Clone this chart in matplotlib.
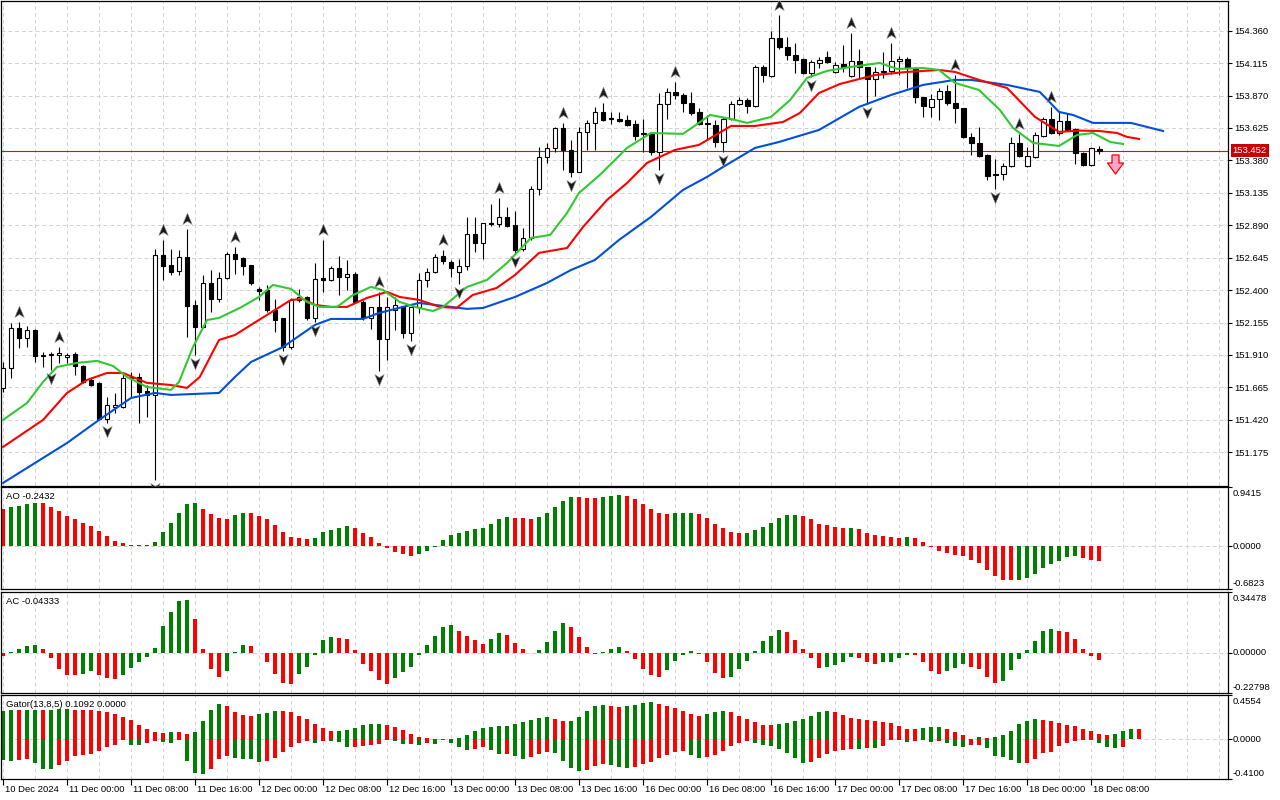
import numpy as np
import matplotlib.pyplot as plt
from matplotlib.path import Path
from matplotlib.transforms import offset_copy, ScaledTranslation, blended_transform_factory

plt.rcParams['font.family'] = ['Liberation Sans', 'DejaVu Sans']

# hourly bars, 10 Dec 16:00 .. 18 Dec 09:00
opens = [
    151.661, 151.812, 152.114, 152.038, 152.099, 151.910, 151.910, 151.910, 151.895, 151.918,
    151.827, 151.721, 151.699, 151.427, 151.517, 151.517, 151.736, 151.744, 151.638, 151.608,
    152.666, 152.590, 152.545, 152.650, 152.288, 152.122, 152.454, 152.333, 152.492, 152.673,
    152.643, 152.590, 152.409, 152.401, 152.250, 152.190, 151.970, 152.326, 152.348, 152.190,
    152.492, 152.477, 152.567, 152.499, 152.522, 152.310, 152.190, 152.273, 152.031, 152.250,
    152.280, 152.076, 152.273, 152.477, 152.537, 152.658, 152.613, 152.537, 152.582, 152.824,
    152.756, 152.907, 152.900, 152.953, 152.892, 152.711, 152.794, 153.164, 153.406, 153.474,
    153.625, 153.459, 153.293, 153.595, 153.663, 153.746, 153.701, 153.693, 153.686, 153.655,
    153.587, 153.580, 153.444, 153.806, 153.897, 153.874, 153.814, 153.746, 153.663, 153.648,
    153.519, 153.693, 153.806, 153.837, 153.791, 154.086, 154.018, 154.305, 154.237, 154.176,
    154.146, 154.040, 154.116, 154.161, 154.048, 154.108, 154.018, 154.131, 154.086, 153.995,
    154.048, 154.056, 154.131, 154.146, 154.078, 153.859, 153.784, 153.844, 153.905, 153.814,
    153.776, 153.557, 153.512, 153.421, 153.277, 153.277, 153.338, 153.512, 153.338, 153.406,
    153.565, 153.693, 153.587, 153.678, 153.617, 153.436, 153.345, 153.466]
highs = [
    151.857, 152.152, 152.159, 152.129, 152.106, 151.933, 151.933, 151.970, 151.926, 151.933,
    151.835, 151.744, 151.706, 151.593, 151.623, 151.774, 151.782, 151.774, 151.683, 152.711,
    152.779, 152.711, 152.703, 152.862, 152.326, 152.514, 152.552, 152.537, 152.688, 152.726,
    152.650, 152.590, 152.424, 152.439, 152.333, 152.190, 152.341, 152.409, 152.356, 152.605,
    152.779, 152.582, 152.658, 152.628, 152.537, 152.326, 152.273, 152.386, 152.348, 152.348,
    152.280, 152.273, 152.530, 152.567, 152.673, 152.703, 152.628, 152.635, 152.953, 152.953,
    152.907, 153.051, 153.096, 153.028, 152.998, 152.870, 153.187, 153.481, 153.512, 153.633,
    153.663, 153.534, 153.633, 153.686, 153.784, 153.814, 153.746, 153.746, 153.723, 153.686,
    153.693, 153.587, 153.889, 153.927, 153.973, 153.889, 153.897, 153.776, 153.723, 153.686,
    153.708, 153.829, 153.859, 153.852, 154.101, 154.101, 154.358, 154.479, 154.312, 154.267,
    154.154, 154.139, 154.161, 154.207, 154.124, 154.252, 154.343, 154.222, 154.086, 154.086,
    154.199, 154.267, 154.169, 154.161, 154.086, 153.859, 153.882, 153.927, 153.950, 154.025,
    153.776, 153.587, 153.633, 153.429, 153.391, 153.361, 153.557, 153.580, 153.481, 153.595,
    153.708, 153.784, 153.746, 153.738, 153.625, 153.444, 153.481, 153.489]
lows = [
    151.630, 151.736, 151.963, 151.970, 151.857, 151.819, 151.797, 151.850, 151.850, 151.759,
    151.699, 151.676, 151.419, 151.396, 151.472, 151.510, 151.593, 151.396, 151.442, 150.966,
    152.477, 152.514, 152.514, 152.046, 151.910, 152.114, 152.235, 152.310, 152.484, 152.522,
    152.514, 152.439, 152.326, 152.235, 152.084, 151.940, 151.955, 152.310, 152.174, 152.159,
    152.386, 152.469, 152.363, 152.401, 152.303, 152.174, 152.106, 151.789, 151.872, 152.099,
    152.038, 152.016, 152.227, 152.424, 152.530, 152.597, 152.499, 152.446, 152.552, 152.688,
    152.635, 152.885, 152.877, 152.877, 152.681, 152.696, 152.779, 153.119, 153.361, 153.444,
    153.308, 153.255, 153.293, 153.459, 153.459, 153.678, 153.655, 153.670, 153.640, 153.534,
    153.444, 153.421, 153.308, 153.693, 153.844, 153.746, 153.723, 153.648, 153.534, 153.481,
    153.444, 153.686, 153.799, 153.738, 153.784, 153.973, 154.010, 154.222, 154.139, 154.040,
    154.033, 154.010, 154.078, 154.116, 154.040, 154.048, 154.010, 154.003, 153.806, 153.867,
    154.003, 154.033, 154.025, 153.927, 153.814, 153.708, 153.708, 153.686, 153.799, 153.663,
    153.549, 153.421, 153.406, 153.232, 153.164, 153.232, 153.330, 153.406, 153.330, 153.398,
    153.557, 153.580, 153.572, 153.602, 153.353, 153.338, 153.338, 153.429]
closes = [
    151.812, 152.114, 152.038, 152.099, 151.903, 151.903, 151.918, 151.926, 151.910, 151.827,
    151.706, 151.683, 151.427, 151.532, 151.532, 151.736, 151.744, 151.630, 151.608, 152.666,
    152.582, 152.537, 152.650, 152.280, 152.122, 152.454, 152.333, 152.492, 152.673, 152.635,
    152.582, 152.454, 152.394, 152.250, 152.174, 151.970, 152.326, 152.348, 152.190, 152.484,
    152.477, 152.567, 152.499, 152.522, 152.310, 152.190, 152.273, 152.031, 152.273, 152.288,
    152.076, 152.273, 152.477, 152.537, 152.650, 152.620, 152.567, 152.582, 152.824, 152.756,
    152.907, 152.900, 152.953, 152.885, 152.703, 152.794, 153.164, 153.406, 153.474, 153.625,
    153.459, 153.293, 153.595, 153.663, 153.746, 153.686, 153.693, 153.678, 153.648, 153.565,
    153.580, 153.444, 153.806, 153.897, 153.874, 153.814, 153.738, 153.655, 153.655, 153.519,
    153.693, 153.806, 153.837, 153.791, 154.086, 154.025, 154.305, 154.237, 154.176, 154.139,
    154.040, 154.124, 154.139, 154.124, 154.101, 154.086, 154.131, 154.086, 153.995, 154.048,
    154.056, 154.131, 154.146, 154.078, 153.859, 153.791, 153.844, 153.905, 153.814, 153.776,
    153.557, 153.512, 153.413, 153.262, 153.270, 153.338, 153.512, 153.413, 153.413, 153.572,
    153.693, 153.587, 153.678, 153.610, 153.436, 153.345, 153.474, 153.452]

# alligator lines (bar position, price)
jaw_bars = [0, 4, 8, 12, 16, 19, 21, 27, 29, 31, 35, 39, 41, 45, 47, 50, 52, 58, 60, 64,
            68, 71, 74, 77, 81, 85, 88, 90, 94, 97, 102, 107, 111, 115, 119, 121, 125.5,
            129.6, 132, 133.75, 136.25, 141, 145]
jaw_vals = [150.943, 151.094, 151.245, 151.419, 151.585, 151.623, 151.608, 151.623, 151.744,
            151.857, 151.970, 152.137, 152.182, 152.182, 152.227, 152.273, 152.303, 152.258,
            152.265, 152.348, 152.454, 152.552, 152.628, 152.779, 152.953, 153.157, 153.255,
            153.330, 153.474, 153.519, 153.610, 153.784, 153.874, 153.950, 153.988, 153.988,
            153.950, 153.897, 153.746, 153.723, 153.663, 153.663, 153.602]
teeth_bars = [0, 5, 8, 10.5, 13, 15, 18, 21, 23, 24.6, 27, 29, 31, 34, 36, 37.5, 39, 41, 43,
              45.5, 48, 49.6, 52, 54.6, 56.7, 58.7, 61.7, 64, 67, 70.5, 72.5, 75.5, 78, 80.5,
              84, 87, 91, 94, 97.5, 99.6, 102, 104.6, 109, 113, 117, 119, 122, 125.5, 129,
              132, 134.5, 137, 139.25, 140.5, 142]
teeth_vals = [151.215, 151.419, 151.623, 151.721, 151.774, 151.774, 151.699, 151.683, 151.661,
              151.744, 152.023, 152.061, 152.137, 152.250, 152.326, 152.333, 152.288, 152.273,
              152.273, 152.341, 152.386, 152.348, 152.326, 152.273, 152.265, 152.363, 152.416,
              152.514, 152.681, 152.718, 152.877, 153.081, 153.209, 153.361, 153.459, 153.497,
              153.640, 153.640, 153.670, 153.738, 153.889, 153.957, 154.025, 154.048, 154.063,
              154.048, 153.988, 153.927, 153.708, 153.595, 153.605, 153.602, 153.587, 153.557,
              153.542]
lips_bars = [0, 3, 5, 6.75, 9.25, 11.75, 13.75, 15.5, 18, 21, 22, 23.75, 25.5, 27, 29.6, 32,
             33.75, 36, 38, 39.6, 41.75, 43.75, 46, 47.5, 49.6, 52, 53.75, 55, 58, 60.5, 63,
             66, 68.4, 70.5, 72, 74.6, 78, 81, 85, 88.4, 91, 93, 96, 98.4, 100.5, 103, 106,
             109.6, 111.75, 115, 117, 119, 122, 124.6, 126.25, 128.75, 132, 134.25, 136.25,
             138.4, 140]
lips_vals = [151.419, 151.547, 151.706, 151.819, 151.850, 151.865, 151.827, 151.744, 151.668,
             151.646, 151.706, 151.970, 152.174, 152.190, 152.265, 152.348, 152.439, 152.409,
             152.310, 152.273, 152.273, 152.363, 152.424, 152.401, 152.310, 152.265, 152.242,
             152.273, 152.424, 152.477, 152.605, 152.794, 152.817, 152.983, 153.134, 153.270,
             153.474, 153.587, 153.580, 153.723, 153.693, 153.663, 153.708, 153.837, 154.003,
             154.056, 154.086, 154.116, 154.071, 154.078, 154.063, 153.965, 153.912, 153.761,
             153.625, 153.512, 153.489, 153.572, 153.587, 153.519, 153.504]

fractal_up = [2, 7, 20, 23, 29, 40, 47, 55, 62, 70, 75, 84, 97, 106, 111, 119, 127, 131]
fractal_dn = [6, 13, 19, 24, 35, 39, 47, 51, 57, 64, 71, 82, 90, 101, 108, 124]
signal_bar = 139

ao = [0.587, 0.619, 0.635, 0.667, 0.682, 0.680, 0.619, 0.555, 0.476, 0.428,
      0.365, 0.317, 0.238, 0.159, 0.079, 0.048, 0.016, 0.014, 0.016, 0.063,
      0.222, 0.365, 0.524, 0.667, 0.682, 0.587, 0.508, 0.444, 0.428, 0.492,
      0.524, 0.520, 0.476, 0.428, 0.333, 0.222, 0.143, 0.127, 0.111, 0.127,
      0.222, 0.254, 0.286, 0.317, 0.286, 0.206, 0.143, 0.048, -0.037, -0.090,
      -0.127, -0.153, -0.127, -0.079, -0.011, 0.095, 0.175, 0.206, 0.238, 0.270,
      0.286, 0.349, 0.428, 0.460, 0.444, 0.443, 0.428, 0.460, 0.524, 0.619,
      0.714, 0.778, 0.776, 0.762, 0.761, 0.778, 0.793, 0.809, 0.793, 0.746,
      0.667, 0.587, 0.524, 0.508, 0.524, 0.526, 0.527, 0.508, 0.444, 0.349,
      0.286, 0.222, 0.206, 0.207, 0.254, 0.302, 0.365, 0.444, 0.492, 0.493,
      0.476, 0.428, 0.349, 0.333, 0.302, 0.286, 0.287, 0.270, 0.206, 0.175,
      0.159, 0.143, 0.127, 0.143, 0.127, 0.063, -0.016, -0.074, -0.111, -0.143,
      -0.159, -0.222, -0.270, -0.381, -0.476, -0.540, -0.541, -0.539, -0.508, -0.444,
      -0.349, -0.286, -0.238, -0.173, -0.157, -0.194, -0.220, -0.2432]
ac = [-0.017, 0.004, 0.023, 0.040, 0.046, 0.023, -0.032, -0.090, -0.124, -0.125,
      -0.118, -0.101, -0.124, -0.141, -0.147, -0.124, -0.084, -0.050, -0.021, 0.029,
      0.154, 0.234, 0.291, 0.297, 0.194, 0.023, -0.090, -0.135, -0.101, 0.006,
      0.046, 0.040, -0.002, -0.055, -0.118, -0.170, -0.175, -0.118, -0.078, -0.015,
      0.074, 0.091, 0.086, 0.080, 0.017, -0.061, -0.101, -0.152, -0.175, -0.141,
      -0.107, -0.078, -0.010, 0.046, 0.097, 0.149, 0.160, 0.126, 0.097, 0.074,
      0.051, 0.080, 0.114, 0.103, 0.057, 0.023, -0.002, 0.017, 0.063, 0.126,
      0.171, 0.149, 0.091, 0.034, -0.004, 0.006, 0.023, 0.034, 0.011, -0.038,
      -0.090, -0.124, -0.135, -0.095, -0.044, -0.015, 0.011, -0.004, -0.055, -0.112,
      -0.141, -0.135, -0.090, -0.044, 0.011, 0.069, 0.097, 0.131, 0.120, 0.074,
      0.023, -0.032, -0.084, -0.083, -0.072, -0.050, -0.021, -0.027, -0.055, -0.061,
      -0.055, -0.050, -0.032, -0.010, -0.011, -0.055, -0.101, -0.118, -0.101, -0.084,
      -0.061, -0.078, -0.090, -0.135, -0.170, -0.158, -0.095, -0.038, 0.017, 0.069,
      0.126, 0.137, 0.126, 0.119, 0.081, 0.019, -0.019, -0.0433]
gator_up = [0.294, 0.305, 0.304, 0.305, 0.306, 0.305, 0.306, 0.307, 0.308, 0.304,
            0.303, 0.302, 0.294, 0.276, 0.261, 0.230, 0.198, 0.145, 0.106, 0.071,
            0.060, 0.071, 0.070, 0.049, 0.071, 0.187, 0.297, 0.367, 0.346, 0.283,
            0.251, 0.240, 0.261, 0.272, 0.293, 0.292, 0.283, 0.240, 0.208, 0.159,
            0.117, 0.085, 0.086, 0.099, 0.120, 0.151, 0.152, 0.161, 0.151, 0.130,
            0.099, 0.058, 0.027, 0.010, 0.006, 0.003, 0.007, 0.017, 0.048, 0.089,
            0.120, 0.130, 0.131, 0.140, 0.161, 0.181, 0.202, 0.223, 0.230, 0.208,
            0.187, 0.188, 0.230, 0.293, 0.346, 0.357, 0.346, 0.336, 0.337, 0.357,
            0.378, 0.379, 0.367, 0.346, 0.325, 0.293, 0.261, 0.240, 0.261, 0.283,
            0.293, 0.283, 0.240, 0.208, 0.177, 0.145, 0.144, 0.155, 0.171, 0.192,
            0.212, 0.243, 0.284, 0.294, 0.284, 0.253, 0.223, 0.212, 0.202, 0.192,
            0.181, 0.171, 0.140, 0.110, 0.109, 0.120, 0.121, 0.122, 0.110, 0.079,
            0.048, 0.007, 0.027, 0.017, 0.027, 0.048, 0.089, 0.161, 0.192, 0.212,
            0.202, 0.192, 0.171, 0.150, 0.135, 0.110, 0.081, 0.053, 0.046, 0.053,
            0.088, 0.110, 0.1092]
gator_dn = [-0.210, -0.221, -0.210, -0.203, -0.244, -0.303, -0.305, -0.267, -0.226, -0.177,
            -0.166, -0.148, -0.122, -0.085, -0.057, -0.007, -0.057, -0.060, -0.042, -0.021,
            -0.032, -0.042, -0.011, -0.226, -0.353, -0.354, -0.307, -0.201, -0.173, -0.194,
            -0.201, -0.202, -0.233, -0.223, -0.194, -0.127, -0.085, -0.042, -0.021, -0.042,
            -0.021, -0.022, -0.032, -0.082, -0.081, -0.065, -0.064, -0.051, -0.010, -0.021,
            -0.051, -0.045, -0.062, -0.041, -0.051, -0.010, -0.041, -0.079, -0.113, -0.103,
            -0.082, -0.113, -0.154, -0.153, -0.175, -0.205, -0.185, -0.154, -0.127, -0.138,
            -0.223, -0.297, -0.329, -0.318, -0.276, -0.254, -0.265, -0.286, -0.297, -0.286,
            -0.254, -0.233, -0.191, -0.159, -0.127, -0.117, -0.159, -0.191, -0.180, -0.159,
            -0.117, -0.074, -0.042, -0.021, -0.042, -0.064, -0.074, -0.106, -0.145, -0.190,
            -0.245, -0.235, -0.190, -0.157, -0.124, -0.113, -0.101, -0.102, -0.090, -0.091,
            -0.068, -0.010, -0.011, -0.031, -0.021, -0.010, -0.031, -0.021, -0.041, -0.072,
            -0.082, -0.062, -0.061, -0.092, -0.168, -0.179, -0.213, -0.246, -0.245, -0.202,
            -0.146, -0.134, -0.071, -0.035, -0.020, -0.011, -0.008, -0.035, -0.078, -0.088,
            -0.078]

price_ticks = [151.175, 151.420, 151.665, 151.910, 152.155, 152.400, 152.645,
               152.890, 153.135, 153.380, 153.625, 153.870, 154.115, 154.360]
price_range = (150.920, 154.584)
ao_scale = (-0.6823, 0.9415)
ac_scale = (-0.22798, 0.34478)
gator_scale = (-0.4100, 0.4554)
time_labels = ['10 Dec 2024', '11 Dec 00:00', '11 Dec 08:00', '11 Dec 16:00', '12 Dec 00:00',
               '12 Dec 08:00', '12 Dec 16:00', '13 Dec 00:00', '13 Dec 08:00', '13 Dec 16:00',
               '16 Dec 00:00', '16 Dec 08:00', '16 Dec 16:00', '17 Dec 00:00', '17 Dec 08:00',
               '17 Dec 16:00', '18 Dec 00:00', '18 Dec 08:00']
label_every = 8

GREEN, RED = '#008000', '#ff0000'
FS = 6.8
W, H = 1280, 800

fig = plt.figure(figsize=(W / 100, H / 100), dpi=100)


def px_axes(x0, y0, x1, y1):
    return fig.add_axes([x0 / W, 1 - y1 / H, (x1 - x0) / W, (y1 - y0) / H])


ax = px_axes(0.5, 1, 1228, 486)
ax_ao = px_axes(0.5, 487, 1228, 589)
ax_ac = px_axes(0.5, 592, 1228, 693)
ax_gt = px_axes(0.5, 695, 1228, 779)
panels = [ax, ax_ao, ax_ac, ax_gt]

grid_kw = dict(color='#d2d2d2', lw=0.7, ls=(0, (4, 3)), zorder=0)
for a in panels:
    a.set_xlim(-0.3125, 153.12)
    for k in range(0, 153, 4):
        a.axvline(k, **grid_kw)
    for s in a.spines.values():
        s.set_linewidth(0.9)
        s.set_color('black')
    a.tick_params(axis='x', bottom=False, labelbottom=False)
    a.yaxis.tick_right()
    a.tick_params(axis='y', direction='out', length=3, width=0.8, pad=1.2,
                  labelsize=FS, colors='black')

# ---- price panel
o, h, l, c = (np.array(v) for v in (opens, highs, lows, closes))
bars = np.arange(len(c))
bull = c >= o

ax.set_ylim(*price_range)
ax.set_yticks(price_ticks)
ax.set_yticklabels([f'{p:.3f}' for p in price_ticks])
for p in price_ticks:
    ax.axhline(p, **grid_kw)

ax.axhline(c[-1], color='#ff0000', lw=0.8, zorder=1.5)
ax.vlines(bars, l, h, color='black', lw=0.8, zorder=2)
ax.bar(bars, np.maximum(np.abs(c - o), 0.0004), bottom=np.minimum(o, c), width=0.62,
       color=np.where(bull, 'white', 'black'), edgecolor='black', lw=0.8, zorder=3)

ax.plot(jaw_bars, jaw_vals, color='#0050d8', lw=1.5, zorder=4)
ax.plot(teeth_bars, teeth_vals, color='#ff0000', lw=1.5, zorder=4)
ax.plot(lips_bars, lips_vals, color='#32c832', lw=1.5, zorder=4)

up_arrow = Path([(0, 1), (0.75, -0.8), (0, -0.3), (-0.75, -0.8), (0, 1)], closed=True)
dn_arrow = Path([(0, -1), (0.75, 0.8), (0, 0.3), (-0.75, 0.8), (0, -1)], closed=True)
arrow_kw = dict(ls='none', ms=9, mfc='#1a1a1a', mec='#8c8c8c', mew=0.4, zorder=5)
ax.plot(fractal_up, h[fractal_up], marker=up_arrow,
        transform=offset_copy(ax.transData, fig=fig, y=10, units='dots'), **arrow_kw)
ax.plot(fractal_dn, l[fractal_dn], marker=dn_arrow,
        transform=offset_copy(ax.transData, fig=fig, y=-8, units='dots'), **arrow_kw)

sell_arrow = Path([(-3.5, 9.5), (3.5, 9.5), (3.5, 1.5), (8, 1.5), (0, -9.5), (-8, 1.5),
                   (-3.5, 1.5), (-3.5, 9.5)], closed=True)
ax.plot([signal_bar], [c[-1]], ls='none', marker=sell_arrow, ms=13.7, mfc='#f7a8c8',
        mec='#ff0000', mew=0.9, zorder=6,
        transform=offset_copy(ax.transData, fig=fig, y=-13, units='dots'))

lab_tr = blended_transform_factory(ax.transAxes, ax.transData)
ax.text(1.0, c[-1], f'{c[-1]:.3f}', ha='left', va='center', color='white', fontsize=FS,
        transform=lab_tr + ScaledTranslation(0.045, 0, fig.dpi_scale_trans), zorder=10,
        bbox=dict(boxstyle='square,pad=0.2', fc='#c80000', ec='none'), clip_on=False)


# ---- oscillator panels
def bar_colours(values, first):
    v = np.asarray(values, dtype=float)
    rising = np.concatenate([[first == 'g'], v[1:] > v[:-1]])
    return np.where(rising, GREEN, RED)


def scale_labels(a, lo, hi, fmt):
    a.set_ylim(lo, hi)
    a.set_yticks([lo, 0, hi])
    a.set_yticklabels([])
    a.axhline(0, **grid_kw)
    tr = blended_transform_factory(a.transAxes, a.transData)
    for val, va, dy in ((hi, 'top', -0.02), (0, 'center', 0), (lo, 'bottom', 0.01)):
        a.text(1.0, val, fmt.format(val), ha='left', va=va, fontsize=FS,
               transform=tr + ScaledTranslation(0.045, dy, fig.dpi_scale_trans),
               clip_on=False)


def panel_title(a, text):
    a.annotate(text, xy=(0, 1), xycoords='axes fraction', xytext=(5, -5),
               textcoords='offset pixels', ha='left', va='top', fontsize=FS)


ax_ao.bar(np.arange(len(ao)), ao, width=0.6, color=bar_colours(ao, 'r'), lw=0, zorder=2)
scale_labels(ax_ao, *ao_scale, '{:.4f}')
panel_title(ax_ao, 'AO -0.2432')

ax_ac.bar(np.arange(len(ac)), ac, width=0.6, color=bar_colours(ac, 'r'), lw=0, zorder=2)
scale_labels(ax_ac, *ac_scale, '{:.5f}')
panel_title(ax_ac, 'AC -0.04333')

ax_gt.bar(np.arange(len(gator_up)), gator_up, width=0.6,
          color=bar_colours(gator_up, 'g'), lw=0, zorder=2)
ax_gt.bar(np.arange(len(gator_dn)), gator_dn, width=0.6,
          color=bar_colours(np.abs(gator_dn), 'g'), lw=0, zorder=2)
scale_labels(ax_gt, *gator_scale, '{:.4f}')
panel_title(ax_gt, 'Gator(13,8,5) 0.1092 0.0000')

# ---- time axis
label_bars = np.arange(len(time_labels)) * label_every
ax_gt.set_xticks(label_bars)
ax_gt.tick_params(axis='x', bottom=True, labelbottom=False, direction='out',
                  length=4, width=0.8)
t_tr = blended_transform_factory(ax_gt.transData, ax_gt.transAxes)
for k, txt in zip(label_bars, time_labels):
    ax_gt.text(k, 0, txt, ha='left', va='center', fontsize=FS, clip_on=False,
               transform=t_tr + ScaledTranslation(0.02, -0.10, fig.dpi_scale_trans))

fig.savefig('out.png', dpi=100, facecolor='white')
